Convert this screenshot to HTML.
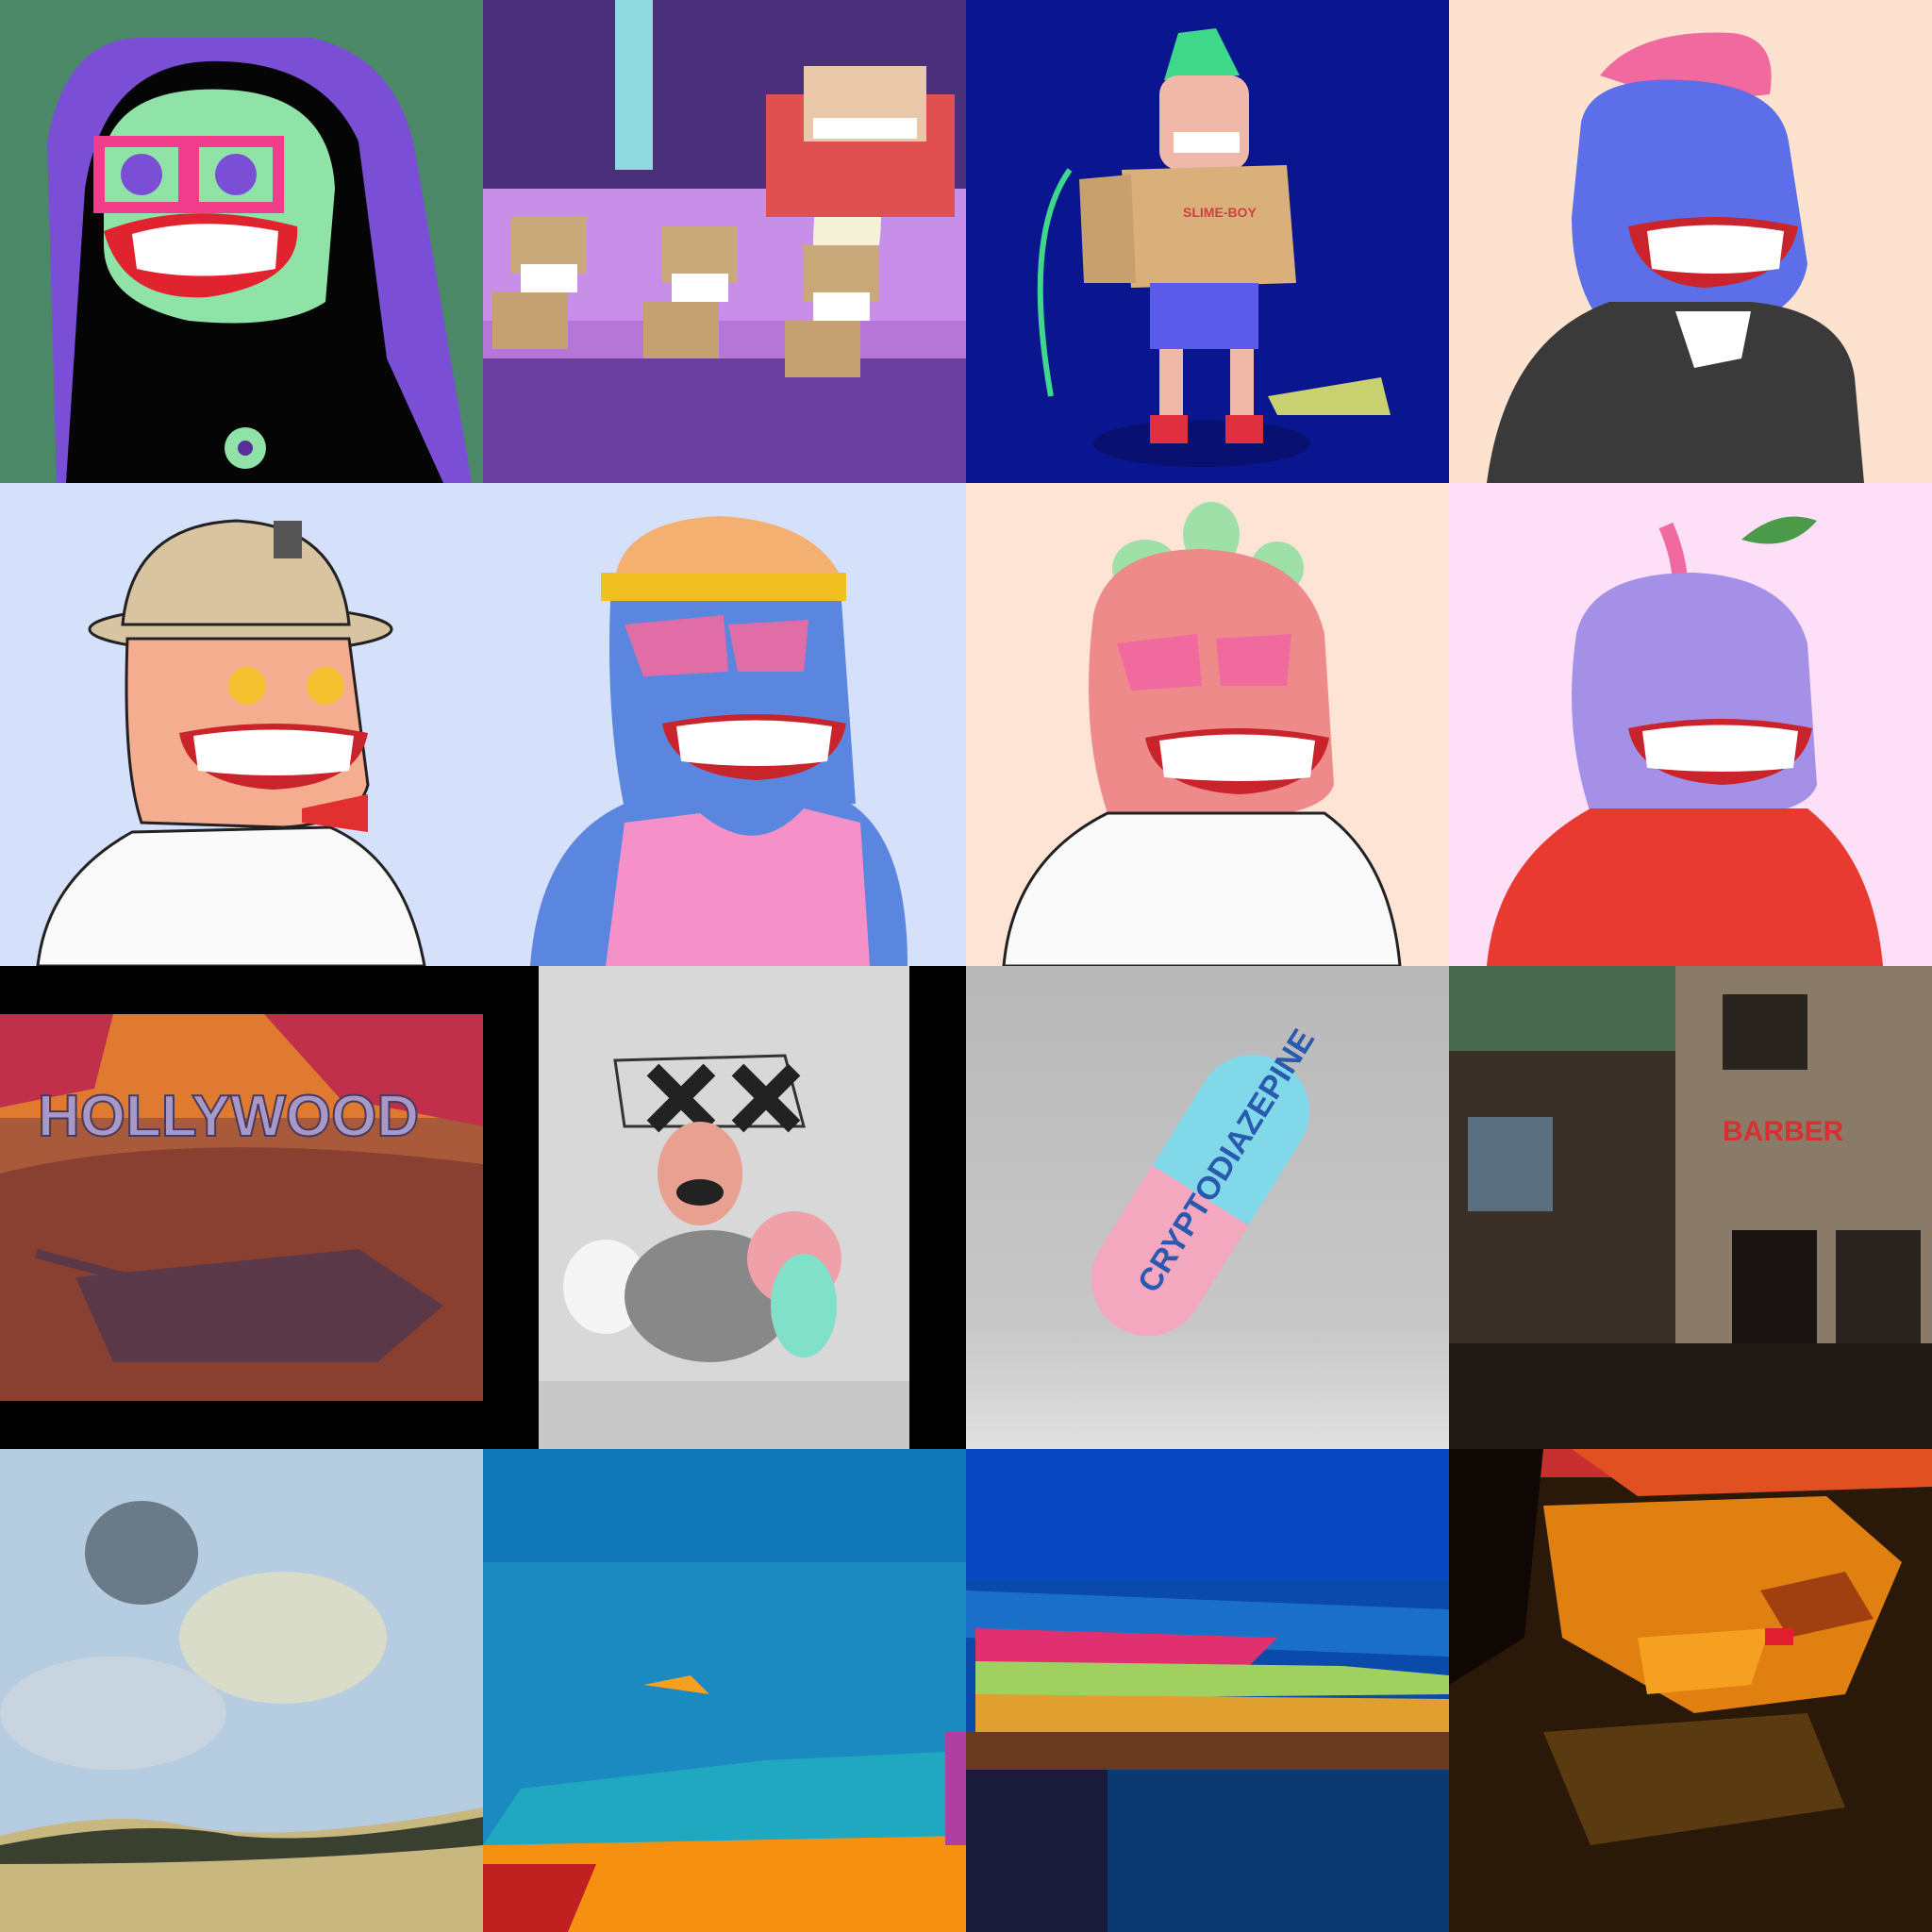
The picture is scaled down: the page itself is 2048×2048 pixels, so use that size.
<!DOCTYPE html>
<html><head><meta charset="utf-8"><style>
html,body{margin:0;padding:0;width:2048px;height:2048px;overflow:hidden;background:#000}
.grid{display:grid;grid-template-columns:repeat(4,512px);grid-template-rows:repeat(4,512px);width:2048px;height:2048px}
.cell{width:512px;height:512px;overflow:hidden;position:relative}
svg{display:block}
text{font-family:"Liberation Sans",sans-serif;font-weight:bold}
</style></head><body>
<div class="grid">

<div class="cell">
<svg width="512" height="512" viewBox="0 0 512 512">
<rect width="512" height="512" fill="#6fc99a"/>
<rect width="512" height="512" fill="#1d3a2a" opacity="0.45"/>
<path d="M60 512 L50 150 Q70 40 150 40 L330 40 Q420 60 440 160 L500 512Z" fill="#7a4fd6"/>
<path d="M70 512 L90 200 Q110 70 220 65 Q340 62 380 150 L410 380 L470 512Z" fill="#050505"/>
<path d="M110 160 Q130 90 240 95 Q350 100 355 200 L345 320 Q300 350 200 340 Q110 320 110 260Z" fill="#8fe3a6"/>
<rect x="105" y="150" width="90" height="70" fill="none" stroke="#f23c8c" stroke-width="12"/>
<rect x="205" y="150" width="90" height="70" fill="none" stroke="#f23c8c" stroke-width="12"/>
<circle cx="150" cy="185" r="22" fill="#7a4fd6"/><circle cx="250" cy="185" r="22" fill="#7a4fd6"/>
<path d="M110 245 Q200 210 315 240 Q320 300 220 315 Q130 320 110 245Z" fill="#e0232e"/>
<path d="M140 248 Q210 228 295 245 L292 285 Q210 300 145 285Z" fill="#fff"/>
<circle cx="260" cy="475" r="22" fill="#8fe3a6"/><circle cx="260" cy="475" r="8" fill="#5a2d9c"/>
</svg></div>

<div class="cell">
<svg width="512" height="512" viewBox="0 0 512 512">
<rect width="512" height="512" fill="#4a2f7a"/>
<rect x="140" y="0" width="40" height="180" fill="#8fd8e0"/>
<rect x="0" y="200" width="512" height="160" fill="#c88fe8"/>
<rect x="0" y="360" width="512" height="152" fill="#6a3fa0"/>
<rect x="0" y="340" width="512" height="40" fill="#b576d8"/>
<g fill="#c9a87a"><rect x="30" y="230" width="80" height="60"/><rect x="190" y="240" width="80" height="60"/><rect x="340" y="260" width="80" height="60"/></g>
<g fill="#fff"><rect x="40" y="280" width="60" height="30"/><rect x="200" y="290" width="60" height="30"/><rect x="350" y="310" width="60" height="30"/></g>
<g fill="#c5a070"><rect x="10" y="310" width="80" height="60"/><rect x="170" y="320" width="80" height="60"/><rect x="320" y="340" width="80" height="60"/></g>
<path d="M350 260 Q350 170 390 160 Q430 180 420 260Z" fill="#f5f0d8"/>
<rect x="300" y="100" width="200" height="130" fill="#e05050"/>
<rect x="340" y="70" width="130" height="80" fill="#e8c8a8"/>
<rect x="350" y="125" width="110" height="22" fill="#fff"/>
</svg></div>

<div class="cell">
<svg width="512" height="512" viewBox="0 0 512 512">
<rect width="512" height="512" fill="#0a1590"/>
<ellipse cx="250" cy="470" rx="115" ry="25" fill="#081070"/>
<path d="M225 35 L265 30 L290 80 L210 85Z" fill="#3fd88a"/>
<rect x="205" y="80" width="95" height="100" rx="20" fill="#f0b8a8"/>
<rect x="220" y="140" width="70" height="22" fill="#fff"/>
<path d="M165 180 L340 175 L350 300 L175 305Z" fill="#d9b07a"/>
<path d="M120 190 L175 185 L180 300 L125 300Z" fill="#c8a070"/>
<rect x="195" y="300" width="115" height="70" fill="#5a5be8"/>
<rect x="205" y="370" width="25" height="80" fill="#f0b8a8"/><rect x="280" y="370" width="25" height="80" fill="#f0b8a8"/>
<rect x="195" y="440" width="40" height="30" fill="#e03040"/><rect x="275" y="440" width="40" height="30" fill="#e03040"/>
<path d="M320 420 Q380 410 440 400 L450 440 L330 440Z" fill="#c8d070"/>
<path d="M110 180 Q60 250 90 420" stroke="#3fd88a" stroke-width="6" fill="none"/>
<text x="230" y="230" font-size="14" fill="#d04040">SLIME-BOY</text>
</svg></div>

<div class="cell">
<svg width="512" height="512" viewBox="0 0 512 512">
<rect width="512" height="512" fill="#fde3cf"/>
<path d="M160 80 Q200 30 300 35 Q350 40 340 100 L250 110Z" fill="#f06aa0"/>
<path d="M140 130 Q150 80 250 85 Q350 90 360 150 L380 280 Q370 340 280 350 L160 340 Q130 300 130 230Z" fill="#5d6fe8"/>
<path d="M190 240 Q280 220 370 240 Q360 300 270 305 Q200 300 190 240Z" fill="#c9242c"/>
<path d="M210 245 Q280 232 355 245 L350 285 Q280 295 215 285Z" fill="#fff"/>
<path d="M40 512 Q60 360 170 320 L320 320 Q420 330 430 400 L440 512Z" fill="#3a3a3a"/>
<path d="M240 330 L320 330 L310 380 L260 390Z" fill="#fff"/>
</svg></div>

<div class="cell">
<svg width="512" height="512" viewBox="0 0 512 512">
<rect width="512" height="512" fill="#d5e0fa"/>
<ellipse cx="255" cy="155" rx="160" ry="25" fill="#d8c4a0" stroke="#222" stroke-width="3"/>
<path d="M130 150 Q140 45 250 40 Q360 45 370 150Z" fill="#d8c4a0" stroke="#222" stroke-width="3"/>
<rect x="290" y="40" width="30" height="40" fill="#555"/>
<path d="M135 165 L370 165 L390 320 Q380 360 300 365 L150 360 Q130 300 135 165Z" fill="#f4ae8f" stroke="#222" stroke-width="3"/>
<circle cx="262" cy="215" r="20" fill="#f5c030"/><circle cx="345" cy="215" r="20" fill="#f5c030"/>
<path d="M190 265 Q290 245 390 265 Q380 320 290 325 Q200 320 190 265Z" fill="#c9242c"/>
<path d="M205 268 Q290 255 375 268 L370 305 Q290 315 210 305Z" fill="#fff"/>
<path d="M40 512 Q50 420 140 370 L350 365 Q430 400 450 512Z" fill="#fafafa" stroke="#222" stroke-width="3"/>
<path d="M320 345 L390 330 L390 370 L320 360Z" fill="#e03030"/>
</svg></div>

<div class="cell">
<svg width="512" height="512" viewBox="0 0 512 512">
<rect width="512" height="512" fill="#d5e0fa"/>
<path d="M140 100 Q150 40 250 35 Q350 40 380 100Z" fill="#f4b070"/>
<rect x="125" y="95" width="260" height="30" fill="#f0c020"/>
<path d="M135 125 L380 125 L395 340 L150 345 Q130 250 135 125Z" fill="#5a86e0"/>
<path d="M150 150 L255 140 L260 200 L170 205Z" fill="#f06aa0" opacity="0.9"/>
<path d="M260 150 L345 145 L340 200 L270 200Z" fill="#f06aa0" opacity="0.9"/>
<path d="M190 255 Q290 235 385 255 Q375 310 290 315 Q200 310 190 255Z" fill="#c9242c"/>
<path d="M205 258 Q290 245 370 258 L365 295 Q290 305 210 295Z" fill="#fff"/>
<path d="M50 512 Q60 380 150 340 L390 340 Q450 380 450 512Z" fill="#5a86e0"/>
<path d="M130 512 L150 360 L230 350 Q290 400 340 345 L400 360 L410 512Z" fill="#f590c8"/>
</svg></div>

<div class="cell">
<svg width="512" height="512" viewBox="0 0 512 512">
<rect width="512" height="512" fill="#fde4d5"/>
<ellipse cx="190" cy="90" rx="35" ry="30" fill="#9ee0a8"/><ellipse cx="260" cy="55" rx="30" ry="35" fill="#9ee0a8"/><ellipse cx="330" cy="90" rx="28" ry="28" fill="#9ee0a8"/>
<path d="M135 140 Q150 70 250 70 Q360 75 380 160 L390 320 Q380 350 300 355 L150 350 Q120 260 135 140Z" fill="#ef8a8a"/>
<path d="M160 170 L245 160 L250 215 L175 220Z" fill="#f06aa0"/><path d="M265 165 L345 160 L340 215 L270 215Z" fill="#f06aa0"/>
<path d="M190 270 Q290 250 385 270 Q375 325 290 330 Q200 325 190 270Z" fill="#c9242c"/>
<path d="M205 273 Q290 260 370 273 L365 312 Q290 320 210 312Z" fill="#fff"/>
<path d="M40 512 Q50 400 150 350 L380 350 Q450 400 460 512Z" fill="#fafafa" stroke="#222" stroke-width="3"/>
</svg></div>

<div class="cell">
<svg width="512" height="512" viewBox="0 0 512 512">
<rect width="512" height="512" fill="#fde0f8"/>
<path d="M230 45 Q245 80 245 110" stroke="#f06aa0" stroke-width="16" fill="none"/>
<path d="M310 60 Q350 25 390 40 Q360 75 310 60Z" fill="#4a9a4a"/>
<path d="M135 160 Q150 95 260 95 Q360 100 380 170 L390 320 Q380 350 300 355 L150 350 Q120 260 135 160Z" fill="#a590e8"/>
<path d="M190 260 Q290 240 385 260 Q375 315 290 320 Q200 315 190 260Z" fill="#c9242c"/>
<path d="M205 263 Q290 250 370 263 L365 302 Q290 310 210 302Z" fill="#fff"/>
<path d="M40 512 Q50 400 150 345 L380 345 Q450 400 460 512Z" fill="#e83a30"/>
</svg></div>

<div class="cell">
<svg width="512" height="512" viewBox="0 0 512 512">
<rect width="512" height="512" fill="#000"/>
<rect x="0" y="51" width="512" height="410" fill="#a85a3a"/>
<rect x="0" y="51" width="512" height="110" fill="#e07a30"/>
<path d="M0 51 L120 51 L100 130 L0 150Z" fill="#c0304a"/><path d="M280 51 L512 51 L512 170 L360 140Z" fill="#c0304a"/>
<path d="M0 220 Q200 170 512 210 L512 461 L0 461Z" fill="#8a4030"/>
<text x="40" y="180" font-size="62" fill="#a898c8" stroke="#4a3a5a" stroke-width="2">HOLLYWOOD</text>
<path d="M80 330 L380 300 L470 360 L400 420 L120 420Z" fill="#5a3848"/>
<rect x="40" y="300" width="200" height="10" fill="#5a3848" transform="rotate(15 40 300)"/>
</svg></div>

<div class="cell">
<svg width="512" height="512" viewBox="0 0 512 512">
<rect width="512" height="512" fill="#000"/>
<rect x="59" y="0" width="393" height="512" fill="#d8d8d8"/>
<rect x="59" y="440" width="393" height="72" fill="#c8c8c8"/>
<path d="M140 100 L320 95 L340 170 L150 170Z" fill="none" stroke="#333" stroke-width="3"/>
<path d="M180 110 L240 170 M240 110 L180 170 M270 110 L330 170 M330 110 L270 170" stroke="#222" stroke-width="18"/>
<ellipse cx="230" cy="220" rx="45" ry="55" fill="#e8a090"/>
<ellipse cx="230" cy="240" rx="25" ry="14" fill="#222"/>
<ellipse cx="130" cy="340" rx="45" ry="50" fill="#f5f5f5"/>
<ellipse cx="240" cy="350" rx="90" ry="70" fill="#888"/>
<ellipse cx="330" cy="310" rx="50" ry="50" fill="#f0a0a8"/>
<ellipse cx="340" cy="360" rx="35" ry="55" fill="#80e0c8"/>
</svg></div>

<div class="cell">
<svg width="512" height="512" viewBox="0 0 512 512">
<defs><linearGradient id="g11" x1="0" y1="0" x2="0" y2="1"><stop offset="0" stop-color="#b8b8b8"/><stop offset="0.75" stop-color="#c8c8c8"/><stop offset="1" stop-color="#e0e0e0"/></linearGradient></defs>
<rect width="512" height="512" fill="url(#g11)"/>
<g transform="rotate(-58 250 250)">
<rect x="90" y="185" width="330" height="120" rx="60" fill="#f4a8c0"/>
<path d="M255 185 L360 185 A60 60 0 0 1 360 305 L255 305Z" fill="#80d8e8"/>
<text x="140" y="260" font-size="34" fill="#2a5ab0">CRYPTODIAZEPINE</text>
</g>
</svg></div>

<div class="cell">
<svg width="512" height="512" viewBox="0 0 512 512">
<rect width="512" height="512" fill="#3a3028"/>
<rect x="240" y="0" width="272" height="512" fill="#8a7a68"/>
<rect x="290" y="30" width="90" height="80" fill="#2a2420"/>
<rect x="300" y="280" width="90" height="200" fill="#1a1512"/>
<rect x="410" y="280" width="90" height="200" fill="#2a2420"/>
<rect x="0" y="0" width="240" height="90" fill="#4a6a50"/>
<rect x="20" y="160" width="90" height="100" fill="#5a7080"/>
<rect x="0" y="400" width="512" height="112" fill="#201a16"/>
<text x="290" y="185" font-size="30" fill="#d83030">BARBER</text>
</svg></div>

<div class="cell">
<svg width="512" height="512" viewBox="0 0 512 512">
<rect width="512" height="512" fill="#b6cce0"/>
<ellipse cx="150" cy="110" rx="60" ry="55" fill="#6a7a88"/>
<ellipse cx="300" cy="200" rx="110" ry="70" fill="#d8dcc8"/>
<ellipse cx="120" cy="280" rx="120" ry="60" fill="#c8d4e0"/>
<path d="M0 410 Q120 380 200 400 Q300 420 512 380 L512 512 L0 512Z" fill="#c8b880"/>
<path d="M0 420 Q150 390 250 410 Q350 420 512 390 L512 420 Q300 440 0 440Z" fill="#3a4030"/>
</svg></div>

<div class="cell">
<svg width="512" height="512" viewBox="0 0 512 512">
<rect width="512" height="512" fill="#1a8ac0"/>
<rect x="0" y="0" width="512" height="120" fill="#1078b8"/>
<path d="M40 360 L300 330 L512 320 L512 420 L0 420Z" fill="#20a8c0"/>
<path d="M170 250 L220 240 L240 260Z" fill="#f5a020"/>
<path d="M0 420 L512 410 L512 512 L0 512Z" fill="#f59010"/>
<path d="M0 440 L120 440 L90 512 L0 512Z" fill="#c02020"/>
<rect x="490" y="300" width="22" height="120" fill="#b040a0"/>
</svg></div>

<div class="cell">
<svg width="512" height="512" viewBox="0 0 512 512">
<rect width="512" height="512" fill="#0a4aaa"/>
<rect x="0" y="0" width="512" height="140" fill="#0848c0"/>
<path d="M0 150 L512 170 L512 220 L0 200Z" fill="#1a70c8"/>
<path d="M10 190 L330 200 L300 230 L10 230Z" fill="#e03070"/>
<path d="M10 225 L400 230 L512 240 L512 260 L10 265Z" fill="#a0d060"/>
<path d="M10 260 L512 265 L512 310 L10 310Z" fill="#e0a030"/>
<path d="M0 300 L512 300 L512 340 L0 350Z" fill="#6a3a20"/>
<rect x="0" y="340" width="512" height="172" fill="#0a3a70"/>
<rect x="0" y="340" width="150" height="172" fill="#1a1a3a"/>
</svg></div>

<div class="cell">
<svg width="512" height="512" viewBox="0 0 512 512">
<rect width="512" height="512" fill="#2a1808"/>
<rect x="0" y="0" width="512" height="30" fill="#c83030"/>
<path d="M130 0 L512 0 L512 40 L200 50Z" fill="#e05020"/>
<path d="M100 60 L400 50 L480 120 L420 260 L260 280 L120 200Z" fill="#e08010"/>
<path d="M200 200 L340 190 L320 250 L210 260Z" fill="#f5a020"/>
<path d="M330 150 L420 130 L450 180 L360 200Z" fill="#a04010"/>
<rect x="335" y="190" width="30" height="18" fill="#e02030"/>
<path d="M0 0 L100 0 L80 200 L0 250Z" fill="#100804"/>
<path d="M100 300 L380 280 L420 380 L150 420Z" fill="#5a3a10"/>
</svg></div>

</div>
</body></html>
